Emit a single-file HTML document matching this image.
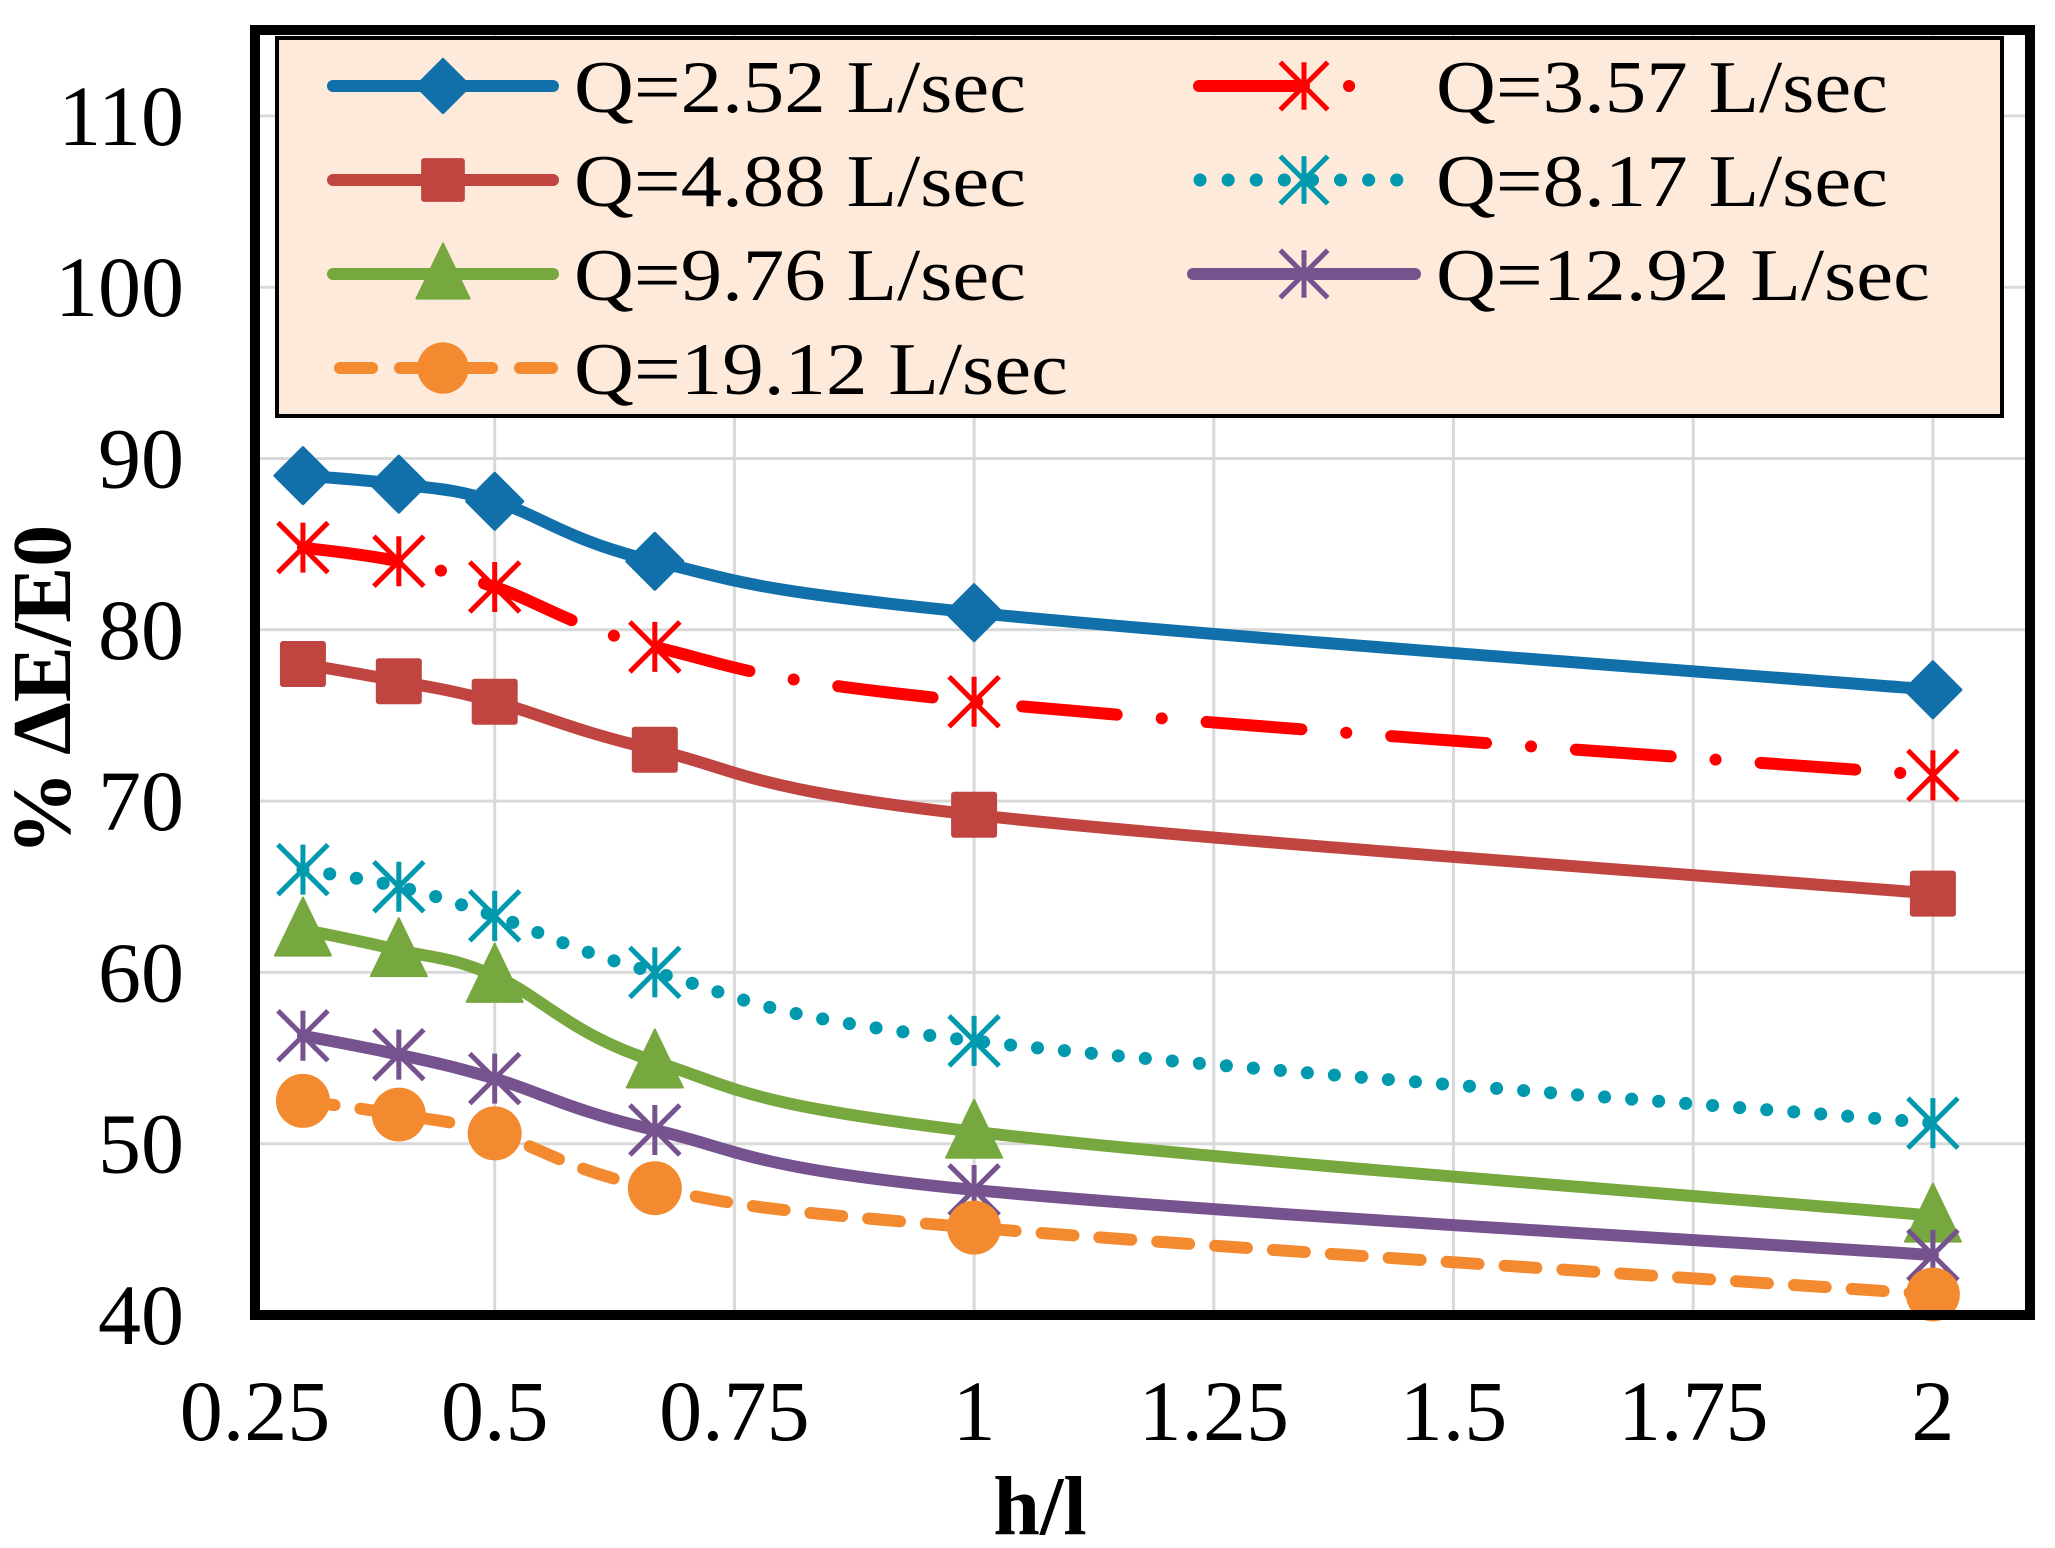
<!DOCTYPE html>
<html><head><meta charset="utf-8">
<style>
html,body{margin:0;padding:0;background:#fff;}
svg{display:block;}
text{font-family:"Liberation Serif","Times New Roman",serif;fill:#000;}
</style></head>
<body>
<svg id="chart" width="2055" height="1548" viewBox="0 0 2055 1548" xmlns="http://www.w3.org/2000/svg">
<g id="grid"></g>
<g id="series"></g>
<g id="legend"></g>
<g id="axes"></g>
</svg>
<script>
const xValues = [0.3, 0.4, 0.5, 0.667, 1, 2];
const seriesNames = ["Q=2.52 L/sec","Q=3.57 L/sec","Q=4.88 L/sec","Q=8.17 L/sec","Q=9.76 L/sec","Q=12.92 L/sec","Q=19.12 L/sec"];
const q252 = [89, 88.5, 87.5, 84, 81, 76.5];
const q357 = [84.8, 84, 82.5, 79, 75.8, 71.5];
const q488 = [78, 77, 75.8, 73, 69.2, 64.6];
const q817 = [66, 65, 63.3, 60, 56, 51.2];
const q976 = [62.5, 61.3, 59.8, 54.8, 50.7, 45.8];
const q1292 = [56.3, 55.2, 53.8, 50.8, 47.3, 43.5];
const q1912 = [52.5, 51.7, 50.6, 47.4, 45.1, 41.2];
const xTicks = [0.25, 0.5, 0.75, 1, 1.25, 1.5, 1.75, 2];
const xTickLabels = ["0.25","0.5","0.75","1","1.25","1.5","1.75","2"];
const yTicks = [40, 50, 60, 70, 80, 90, 100, 110];
const yTickLabels = ["40","50","60","70","80","90","100","110"];

const NS = "http://www.w3.org/2000/svg";
const L = 255, R = 2030, T = 30, B = 1315;
function xs(v){ return L + (v - 0.25) / 0.25 * 239.7; }
function ys(v){ return B - (v - 40) / 10 * 171.3; }
function mk(tag, attrs, parent){
  const e = document.createElementNS(NS, tag);
  for (const k in attrs) e.setAttribute(k, attrs[k]);
  parent.appendChild(e); return e;
}
const grid = document.getElementById('grid');
const seriesG = document.getElementById('series');
const legendG = document.getElementById('legend');
const axesG = document.getElementById('axes');

xTicks.forEach((t, i) => {
  const ln = mk('line', {x1: xs(t), x2: xs(t), y1: T, y2: B, stroke: '#d9d9d9', 'stroke-width': 3}, grid);
  
  
  const tx = mk('text', {x: xs(t), y: 1440, 'font-size': 86, 'text-anchor': 'middle'}, axesG);
  tx.textContent = xTickLabels[i];
  
  
});
yTicks.forEach((t, i) => {
  const ln = mk('line', {x1: L, x2: R, y1: ys(t), y2: ys(t), stroke: '#d9d9d9', 'stroke-width': 3}, grid);
  
  
  const tx = mk('text', {x: 184, y: ys(t) + 29, 'font-size': 86, 'text-anchor': 'end'}, axesG);
  tx.textContent = yTickLabels[i];
  
  
});
const frame = mk('rect', {x: L, y: T, width: R - L, height: B - T, fill: 'none', stroke: '#000', 'stroke-width': 10}, axesG);


const xt = mk('text', {x: 1040, y: 1534, 'font-size': 84, 'font-weight': 'bold', 'text-anchor': 'middle'}, axesG);
xt.textContent = 'h/l';


const yt = mk('text', {x: 0, y: 0, 'font-size': 84, 'font-weight': 'bold', 'text-anchor': 'middle', transform: 'translate(70,690) rotate(-90)'}, axesG);
yt.textContent = '% \u0394E/E0';



const styles = [
  {c: '#1170aa', dash: null, m: 'diamond', data: q252},
  {c: '#ff0000', dash: '95 45 0.1 45', m: 'star', data: q357},
  {c: '#c0443f', dash: null, m: 'square', data: q488},
  {c: '#0099ae', dash: '0.1 27', m: 'star', data: q817},
  {c: '#77a83f', dash: null, m: 'triangle', data: q976},
  {c: '#76528f', dash: null, m: 'star', data: q1292},
  {c: '#f38a30', dash: '32 26', m: 'circle', data: q1912}
];

function smoothPath(pts){
  let d = 'M' + pts[0][0] + ',' + pts[0][1];
  for (let i = 0; i < pts.length - 1; i++){
    const p0 = pts[i - 1] || pts[i], p1 = pts[i], p2 = pts[i + 1], p3 = pts[i + 2] || p2;
    const k = 0.18;
    const c1x = p1[0] + (p2[0] - p0[0]) * k, c1y = p1[1] + (p2[1] - p0[1]) * k;
    const c2x = p2[0] - (p3[0] - p1[0]) * k, c2y = p2[1] - (p3[1] - p1[1]) * k;
    d += ' C' + c1x + ',' + c1y + ' ' + c2x + ',' + c2y + ' ' + p2[0] + ',' + p2[1];
  }
  return d;
}
function marker(type, x, y, color, parent, scale){
  const s = scale || 1;
  let e;
  if (type === 'diamond'){
    const r = 28 * s;
    e = mk('polygon', {points: `${x},${y-r} ${x+r},${y} ${x},${y+r} ${x-r},${y}`, fill: color, stroke: color, 'stroke-width': 3, 'stroke-linejoin': 'round'}, parent);
  } else if (type === 'square'){
    const r = 23 * s;
    e = mk('rect', {x: x - r, y: y - r, width: 2*r, height: 2*r, rx: 3, fill: color}, parent);
  } else if (type === 'triangle'){
    const r = 28 * s;
    e = mk('polygon', {points: `${x},${y-r-4} ${x+r},${y+r-2} ${x-r},${y+r-2}`, fill: color, stroke: color, 'stroke-width': 2, 'stroke-linejoin': 'round'}, parent);
  } else if (type === 'circle'){
    e = mk('circle', {cx: x, cy: y, r: 27 * s, fill: color}, parent);
  } else {
    const r = 25 * s, h = 25 * s;
    e = mk('path', {d: `M${x-r},${y-r} L${x+r},${y+r} M${x+r},${y-r} L${x-r},${y+r} M${x},${y-h} L${x},${y+h}`, stroke: color, 'stroke-width': 5, fill: 'none'}, parent);
  }
  return e;
}

styles.forEach((st, si) => {
  const g = mk('g', {}, seriesG);
  
  
  const pts = xValues.map((xv, i) => [xs(xv), ys(st.data[i])]);
  const attrs = {d: smoothPath(pts), fill: 'none', stroke: st.c, 'stroke-width': st.dash === '0.1 27' ? 13 : 12, 'stroke-linecap': 'round', 'stroke-linejoin': 'round'};
  if (st.dash) attrs['stroke-dasharray'] = st.dash;
  const line = mk('path', attrs, g);
  
  
  pts.forEach(p => {
    const m = marker(st.m, p[0], p[1], st.c, g);
    
    
  });
});

const lbox = mk('rect', {x: 277, y: 38, width: 1725, height: 378, fill: '#fdeada', stroke: '#000', 'stroke-width': 4}, legendG);


const legendPos = [
  [0, 86], [1, 86], [0, 180], [1, 180], [0, 274], [1, 274], [0, 368]
];
const legendOrder = [0, 1, 2, 3, 4, 5, 6];
legendOrder.forEach((si, k) => {
  const st = styles[si];
  const col = legendPos[k][0], y = legendPos[k][1];
  const x1 = col === 0 ? 333 : 1193, x2 = col === 0 ? 553 : 1415;
  const tx0 = col === 0 ? 574 : 1436;
  const g = mk('g', {}, legendG);
  
  
  const la = {x1: x1, x2: x2, y1: y, y2: y, stroke: st.c, 'stroke-width': st.dash === '0.1 27' ? 13 : 12, 'stroke-linecap': 'round'};
  if (st.dash === '95 45 0.1 45'){ la['stroke-dasharray'] = '105 45 0.1 100'; la.x1 = 1199; la.x2 = 1365; }
  else if (st.dash === '0.1 27'){ la['stroke-dasharray'] = '0.1 28'; la.x1 = 1200; }
  else if (st.dash){ la['stroke-dasharray'] = '32 28'; la.x1 = 340; }
  mk('line', la, g);
  marker(st.m, (x1 + x2) / 2, y, st.c, g, 0.95);
  const words = seriesNames[si];
  const t = mk('text', {x: tx0, y: y + 26, 'font-size': 74, textLength: (words.length === 12 ? 452 : 494), lengthAdjust: 'spacingAndGlyphs'}, g);
  t.textContent = words;
});
</script>
</body></html>
